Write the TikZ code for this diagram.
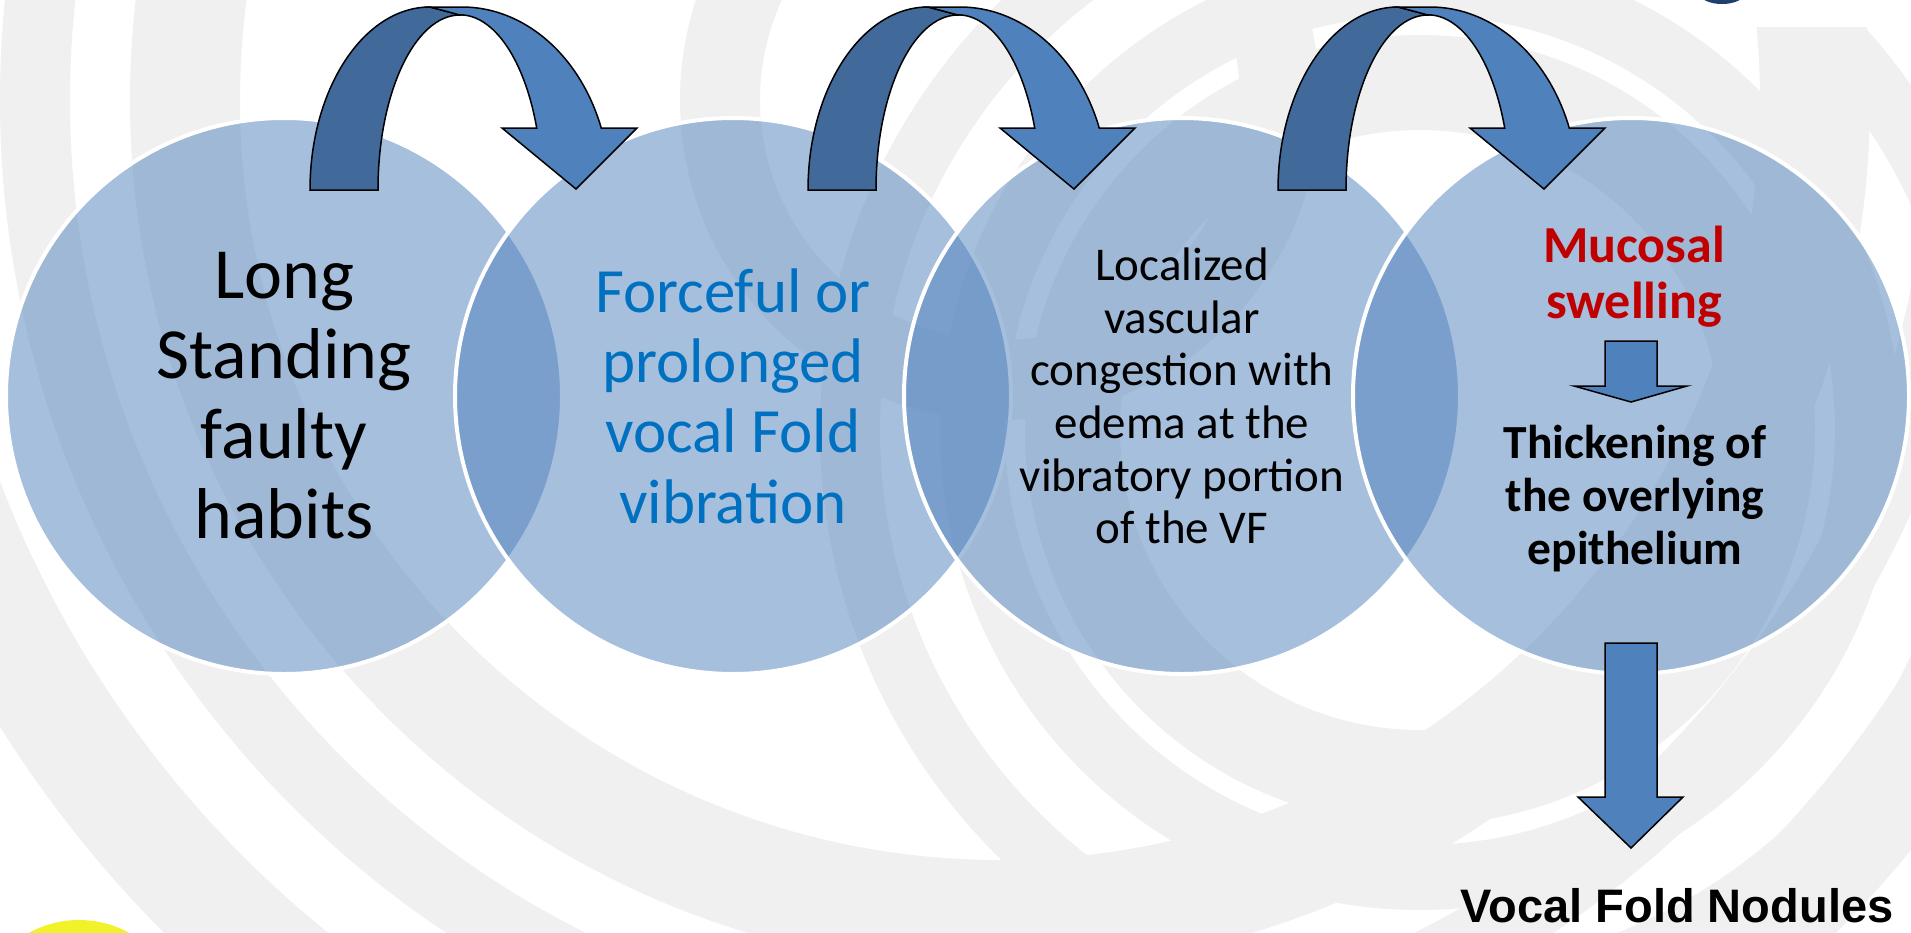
\documentclass[tikz,border=0pt]{standalone}
\usepackage{fontspec}
\setmainfont{Carlito}
\newfontfamily\arialfont{Liberation Sans}
\definecolor{accent}{HTML}{4F81BD}
\definecolor{arrdark}{HTML}{41699A}
\definecolor{txtblue}{HTML}{0070C0}
\definecolor{txtred}{HTML}{C00000}
\definecolor{bggray}{HTML}{F0F0F0}
\definecolor{logoblue}{HTML}{1F3F6F}
\definecolor{logoyellow}{HTML}{F2F22A}
\tikzset{
  bubble/.style={circle, minimum size=556pt, inner sep=0pt, fill=accent, fill opacity=0.5,
    text opacity=1, draw=white, line width=4pt, align=center},
  arrowline/.style={draw=black, line width=1.5pt, line join=miter},
  ringA/.style={fill=bggray, even odd rule},
}
\newcommand\bentarrow[1]{%
\begin{scope}[shift={(#1,0)}]
\filldraw[arrowline, fill=arrdark] (0,190) arc[start angle=180, end angle=270, x radius=120, y radius=183]
  -- (150,15) arc[start angle=270, end angle=180, x radius=82, y radius=175] -- cycle;
\filldraw[arrowline, fill=accent] (150,15) -- (120,7) -- (152,7)
  arc[start angle=270, end angle=340.2, x radius=148, y radius=183]
  -- (327,128) -- (266,189) -- (192,128) -- (226.7,128)
  arc[start angle=339.3, end angle=270, x radius=82, y radius=175] -- cycle;
\end{scope}}
\begin{document}
\begin{tikzpicture}[x=1pt,y=-1pt]
\useasboundingbox (0,0) rectangle (1911,932);
% background
\begin{scope}
\clip (0,0) rectangle (1911,932);
\fill[white] (0,0) rectangle (1911,932);
\foreach \a/\b in {240/320, 760/870, 930/1000, 1070/1180}{
  \fill[ringA] (1000,100) circle[radius=\b] circle[radius=\a];
}
\foreach \a/\b in {300/395, 415/480, 540/600}{
  \fill[ringA] (1420,430) circle[radius=\b] circle[radius=\a];
}
\fill[white] (1690,0) rectangle (1911,27);
\fill[logoblue] (1722,-6) ellipse[x radius=22, y radius=10];
\fill[logoyellow] (79,1024) circle[radius=104];
\end{scope}
% circles
\node[bubble, font=\fontsize{72}{80}\selectfont] (c1) at (284,396) {Long\\Standing\\faulty\\habits};
\node[bubble, text=txtblue, font=\fontsize{63}{70.3}\selectfont] (c2) at (733,396) {Forceful or\\prolonged\\vocal Fold\\vibration};
\node[bubble, font=\fontsize{47}{52.6}\selectfont] (c3) at (1182,396) {Localized\\vascular\\congestion with\\edema at the\\vibratory portion\\of the VF};
\node[bubble] (c4) at (1631,396) {};
\node[text=txtred, font=\bfseries\fontsize{52}{56}\selectfont, align=center] (t4a) at (1634,277) {Mucosal\\swelling};
\node[font=\bfseries\fontsize{47.5}{53}\selectfont, align=center] (t4b) at (1635,499) {Thickening of\\the overlying\\epithelium};
\node[font=\arialfont\bfseries\fontsize{47}{54}\selectfont, anchor=base] (t5) at (1677,922) {Vocal Fold Nodules};
% curved arrows
\bentarrow{310}
\bentarrow{808}
\bentarrow{1278}
% small arrow between the two texts of circle 4
\filldraw[arrowline, fill=accent] (1605,341) -- (1657,341) -- (1657,386) -- (1687,386) -- (1631,402) -- (1574,386) -- (1605,386) -- cycle;
% down arrow to Vocal Fold Nodules
\filldraw[arrowline, fill=accent] (1605,643) -- (1657,643) -- (1657,797) -- (1683,797) -- (1631,848) -- (1578,797) -- (1605,797) -- cycle;
\end{tikzpicture}
\end{document}
